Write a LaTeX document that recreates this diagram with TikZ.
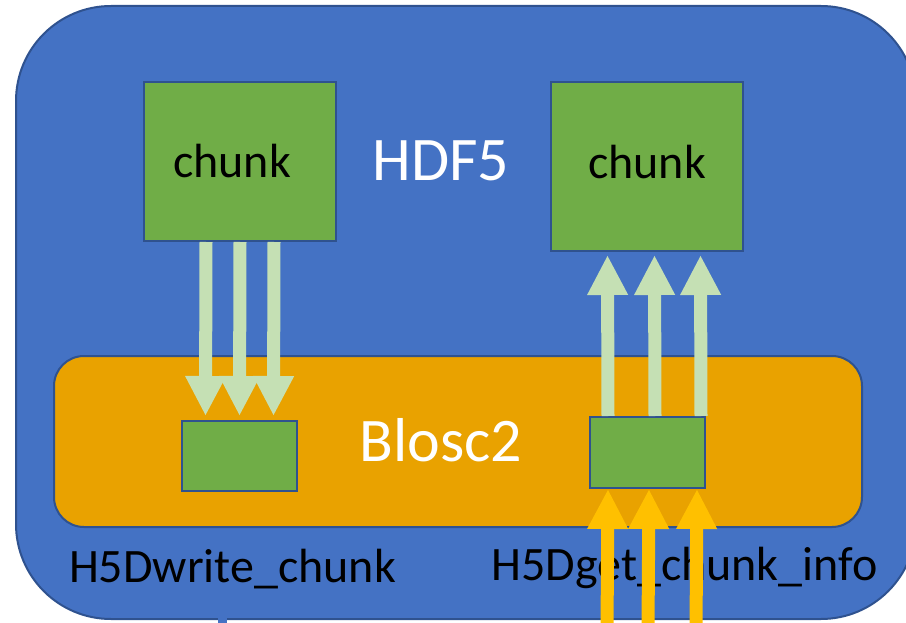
\documentclass[tikz,border=0pt]{standalone}
\usepackage{fontspec}
\setmainfont{Carlito}
\usetikzlibrary{positioning,arrows.meta}
\definecolor{hdfblue}{HTML}{4472C4}
\definecolor{edgeblue}{HTML}{2F528F}
\definecolor{bloscorange}{HTML}{E9A200}
\definecolor{chunkgreen}{HTML}{70AD47}
\definecolor{palegreen}{HTML}{C5E0B4}
\definecolor{callyellow}{HTML}{FFC000}

\begin{document}
\begin{tikzpicture}[x=1pt,y=-1pt,
  box/.style={draw=edgeblue,line width=2pt,fill=chunkgreen,inner sep=0pt,anchor=north west,font=\fontsize{48}{56}\selectfont},
  title/.style={font=\fontsize{62}{72}\selectfont,text=white,anchor=base},
  call name/.style={font=\fontsize{48}{56}\selectfont,anchor=base},
  flow/.style={-{Triangle[width=38pt,length=40pt]},line width=13pt,draw=palegreen},
  feed/.style={flow,draw=callyellow}]
\clip (0,0) rectangle (906,623);
\node[draw=edgeblue,line width=2pt,fill=hdfblue,rounded corners=95pt,anchor=north west,
  minimum width=900pt,minimum height=613pt] (hdf) at (15,5) {};
\node[draw=edgeblue,line width=2pt,fill=bloscorange,rounded corners=30pt,anchor=north west,
  minimum width=808pt,minimum height=171pt] (blosc) at (53,355) {};
% chunks in the file and in the blosc2 layer
\node[box,minimum width=192pt,minimum height=159pt] (chunkW) at (143,81) {\hspace*{-16pt}chunk};
\node[box,minimum width=192pt,minimum height=169pt,text depth=10pt] (chunkR) at (550,81) {chunk};
\node[box,minimum width=115pt,minimum height=70pt] (blkW) at (181,420) {};
\node[box,minimum width=115pt,minimum height=71pt] (blkR) at (589,416) {};
\node[title] (hdfname) at (441,181) {HDF5};
\node[title] (bloscname) at (441,461) {Blosc2};
\node[call name] (writename) at (232.5,582) {H5Dwrite\_chunk};
\node[call name] (getname) at (684.5,580) {H5Dget\_chunk\_info};
\coordinate (wfeed) at (222,630);
\coordinate (rfeed) at (646.5,630);
\draw[line width=9pt,hdfblue] (wfeed) -- ++(0,-12);
\foreach \dx in {-34,0,34}
  \draw[flow,shorten >=4pt] ([xshift=\dx pt]chunkW.south) -- ([xshift=\dx pt]blkW.north);
\foreach \dx in {-39.5,7.5,53.5}
  \draw[flow,shorten >=3pt] ([xshift=\dx pt]blkR.north) -- ([xshift=\dx pt]chunkR.south);
\foreach \dx in {-39.5,1.5,49.5}
  \draw[feed] ([xshift=\dx pt]rfeed) -- ([xshift=\dx pt]blkR.south);
\end{tikzpicture}
\end{document}
